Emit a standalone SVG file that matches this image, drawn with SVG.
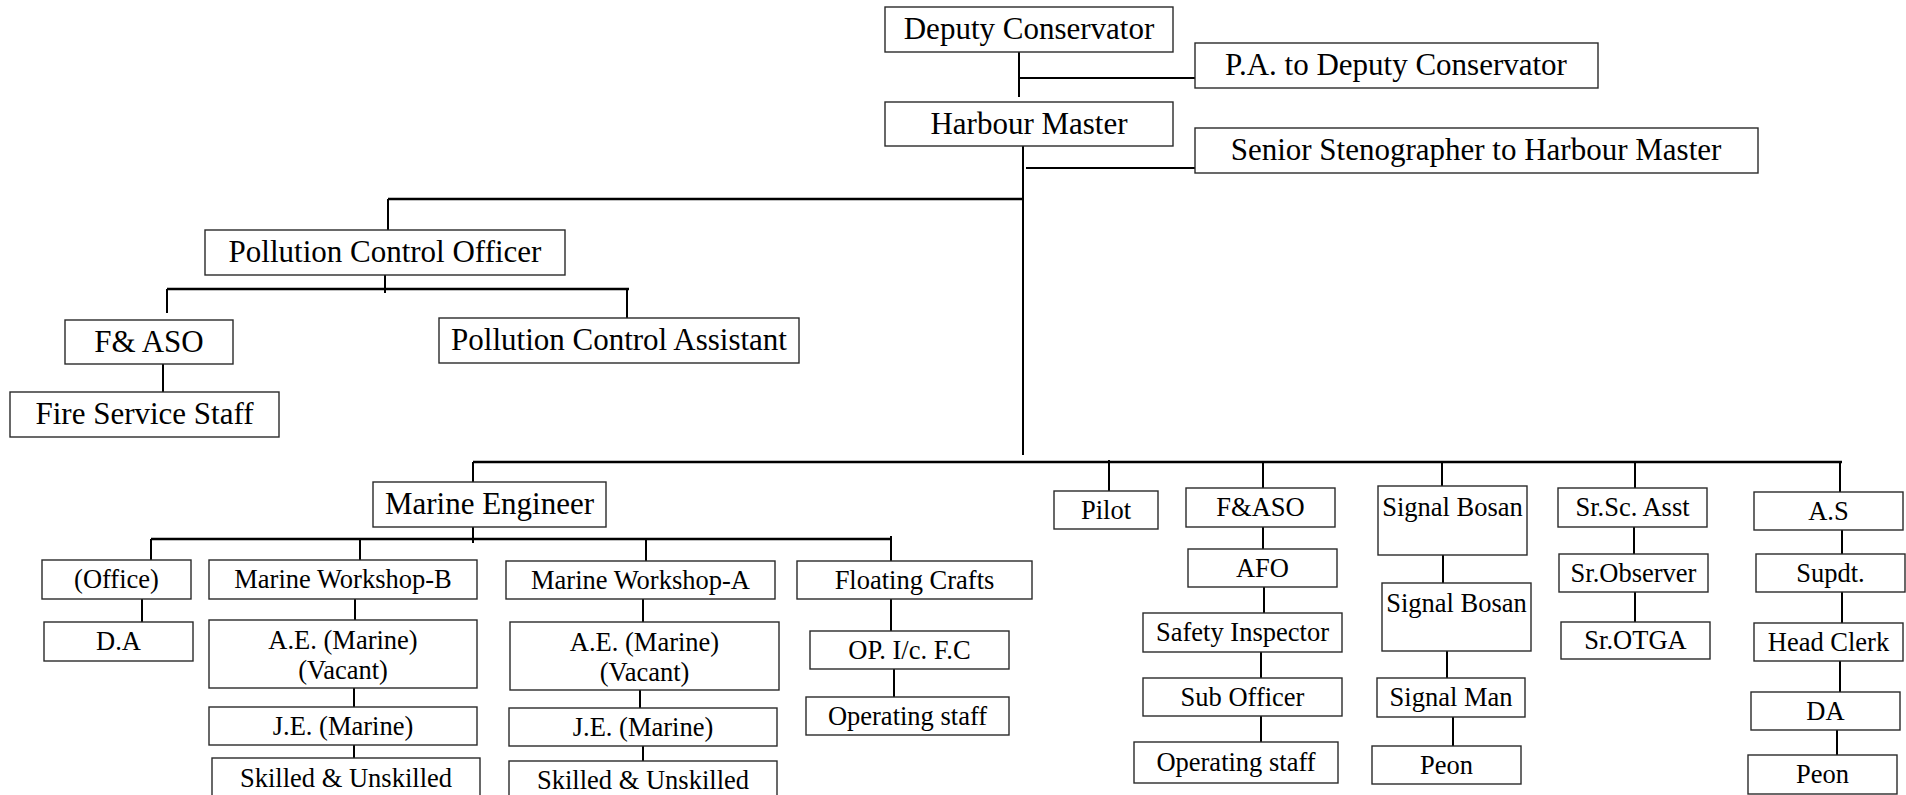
<svg xmlns="http://www.w3.org/2000/svg" width="1906" height="795" viewBox="0 0 1906 795" font-family="'Liberation Serif', 'Times New Roman', Times, serif">
<style>
rect{fill:#fff;stroke:#2a2a2a;stroke-width:1.4}
text{font-family:'Liberation Serif','Times New Roman',Times,serif;fill:#000;text-anchor:middle}
.b{font-size:31px}
.s{font-size:26.5px}
#connectors path{fill:none;stroke:#000;stroke-width:2}
#connectors .h{stroke-width:2.6}
</style>
<rect x="0" y="0" width="1906" height="795" style="stroke:none"/>
<g id="connectors">
<path d="M1019 52V97M1019 78H1195M1023 146V455M1026 168H1195"/>
<path class="h" d="M388 199H1023"/>
<path d="M388 199V230M385 275V293M167 289V313M627 289V318M163 364V392"/>
<path class="h" d="M167 289H629"/>
<path class="h" d="M473 462H1842"/>
<path d="M473 462V482M473 527V543M151 539V560M360 539V560M646 539V561M891 536V561"/>
<path class="h" d="M151 539H891"/>
<path d="M142 599V622M355 599V620M354 688V707M354 745V758"/>
<path d="M643 599V622M640 690V708M643 746V761"/>
<path d="M891 599V631M894 669V697"/>
<path d="M1109 460V491M1263 462V488M1263 527V549M1264 587V613M1261 652V678M1261 716V742"/>
<path d="M1442 462V486M1443 555V583M1447 651V678M1453 717V746"/>
<path d="M1635 462V488M1634 527V554M1635 592V622"/>
<path d="M1840 462V492M1842 530V554M1842 592V623M1840 661V692M1837 730V755"/>
</g>
<g id="deputy-conservator"><rect x="885" y="7" width="288" height="45"/><text class="b" x="1029" y="39">Deputy Conservator</text></g>
<g id="pa-deputy"><rect x="1195" y="43" width="403" height="45"/><text class="b" x="1396" y="75">P.A. to Deputy Conservator</text></g>
<g id="harbour-master"><rect x="885" y="102" width="288" height="44"/><text class="b" x="1029" y="133.5">Harbour Master</text></g>
<g id="senior-steno"><rect x="1195" y="128" width="563" height="45"/><text class="b" x="1476" y="160">Senior Stenographer to Harbour Master</text></g>
<g id="pollution-officer"><rect x="205" y="230" width="360" height="45"/><text class="b" x="385" y="262">Pollution Control Officer</text></g>
<g id="f-aso-left"><rect x="65" y="320" width="168" height="44"/><text class="b" x="149" y="351.5">F&amp; ASO</text></g>
<g id="pollution-assistant"><rect x="439" y="318" width="360" height="45"/><text class="b" x="619" y="350">Pollution Control Assistant</text></g>
<g id="fire-service-staff"><rect x="10" y="392" width="269" height="45"/><text class="b" x="144.5" y="424">Fire Service Staff</text></g>
<g id="marine-engineer"><rect x="373" y="482" width="233" height="45"/><text class="b" x="489.5" y="514">Marine Engineer</text></g>
<g id="office"><rect x="42" y="560" width="149" height="39"/><text class="s" x="116.5" y="588">(Office)</text></g>
<g id="da-office"><rect x="44" y="622" width="149" height="39"/><text class="s" x="118.5" y="650">D.A</text></g>
<g id="workshop-b"><rect x="209" y="560" width="268" height="39"/><text class="s" x="343" y="588">Marine Workshop-B</text></g>
<g id="ae-b"><rect x="209" y="620" width="268" height="68"/><text class="s" x="343" y="649">A.E. (Marine)</text><text class="s" x="343" y="679">(Vacant)</text></g>
<g id="je-b"><rect x="209" y="707" width="268" height="38"/><text class="s" x="343" y="734.5">J.E. (Marine)</text></g>
<g id="skilled-b"><rect x="212" y="758" width="268" height="50"/><text class="s" x="346" y="787">Skilled &amp; Unskilled</text></g>
<g id="workshop-a"><rect x="506" y="561" width="269" height="38"/><text class="s" x="640.5" y="588.5">Marine Workshop-A</text></g>
<g id="ae-a"><rect x="510" y="622" width="269" height="68"/><text class="s" x="644.5" y="651">A.E. (Marine)</text><text class="s" x="644.5" y="681">(Vacant)</text></g>
<g id="je-a"><rect x="509" y="708" width="268" height="38"/><text class="s" x="643" y="735.5">J.E. (Marine)</text></g>
<g id="skilled-a"><rect x="509" y="761" width="268" height="50"/><text class="s" x="643" y="789">Skilled &amp; Unskilled</text></g>
<g id="floating-crafts"><rect x="797" y="561" width="235" height="38"/><text class="s" x="914.5" y="588.5">Floating Crafts</text></g>
<g id="op-ic-fc"><rect x="810" y="631" width="199" height="38"/><text class="s" x="909.5" y="658.5">OP. I/c. F.C</text></g>
<g id="operating-staff-fc"><rect x="806" y="697" width="203" height="38"/><text class="s" x="907.5" y="724.5">Operating staff</text></g>
<g id="pilot"><rect x="1054" y="491" width="104" height="38"/><text class="s" x="1106" y="518.5">Pilot</text></g>
<g id="f-aso"><rect x="1186" y="488" width="149" height="39"/><text class="s" x="1260.5" y="516">F&amp;ASO</text></g>
<g id="afo"><rect x="1188" y="549" width="149" height="38"/><text class="s" x="1262.5" y="576.5">AFO</text></g>
<g id="safety-inspector"><rect x="1143" y="613" width="199" height="39"/><text class="s" x="1242.5" y="641">Safety Inspector</text></g>
<g id="sub-officer"><rect x="1143" y="678" width="199" height="38"/><text class="s" x="1242.5" y="705.5">Sub Officer</text></g>
<g id="operating-staff-fire"><rect x="1134" y="742" width="204" height="41"/><text class="s" x="1236" y="771">Operating staff</text></g>
<g id="signal-bosan-1"><rect x="1378" y="486" width="149" height="69"/><text class="s" x="1452.5" y="516">Signal Bosan</text></g>
<g id="signal-bosan-2"><rect x="1382" y="583" width="149" height="68"/><text class="s" x="1456.5" y="612">Signal Bosan</text></g>
<g id="signal-man"><rect x="1377" y="678" width="148" height="39"/><text class="s" x="1451" y="706">Signal Man</text></g>
<g id="peon-signal"><rect x="1372" y="746" width="149" height="38"/><text class="s" x="1446.5" y="773.5">Peon</text></g>
<g id="sr-sc-asst"><rect x="1558" y="488" width="149" height="39"/><text class="s" x="1632.5" y="516">Sr.Sc. Asst</text></g>
<g id="sr-observer"><rect x="1559" y="554" width="149" height="38"/><text class="s" x="1633.5" y="581.5">Sr.Observer</text></g>
<g id="sr-otga"><rect x="1561" y="622" width="149" height="37"/><text class="s" x="1635.5" y="649">Sr.OTGA</text></g>
<g id="as"><rect x="1754" y="492" width="149" height="38"/><text class="s" x="1828.5" y="519.5">A.S</text></g>
<g id="supdt"><rect x="1756" y="554" width="149" height="38"/><text class="s" x="1830.5" y="581.5">Supdt.</text></g>
<g id="head-clerk"><rect x="1754" y="623" width="149" height="38"/><text class="s" x="1828.5" y="650.5">Head Clerk</text></g>
<g id="da-as"><rect x="1751" y="692" width="149" height="38"/><text class="s" x="1825.5" y="719.5">DA</text></g>
<g id="peon-as"><rect x="1748" y="755" width="149" height="39"/><text class="s" x="1822.5" y="783">Peon</text></g>
</svg>
